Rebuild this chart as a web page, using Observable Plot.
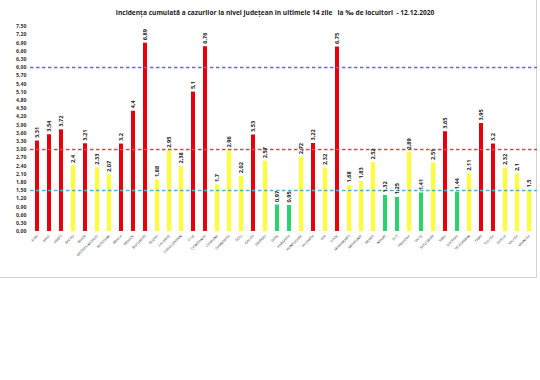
<!DOCTYPE html>
<html><head><meta charset="utf-8">
<script src="https://cdn.jsdelivr.net/npm/d3@7"></script>
<script src="https://cdn.jsdelivr.net/npm/@observablehq/plot@0.6"></script>
<style>
body{margin:0;background:#fff;font-family:"Open Sans",sans-serif;}
#wrap{position:relative;width:540px;height:380px;overflow:hidden;}
#title{position:absolute;top:8px;left:0;width:550px;text-align:center;font:bold 6.6px "Open Sans",sans-serif;color:#222;}
#border{position:absolute;left:-2px;top:-2px;width:537px;height:278px;border:1px solid #d4d4d4;}
#chart{position:absolute;left:0;top:0;}
</style></head>
<body><div id="wrap"><div id="border"></div><div id="chart"></div><div id="title">Incidența cumulată a cazurilor la nivel județean în ultimele 14 zile &nbsp; la ‰ de locuitori &nbsp;- 12.12.2020</div></div>
<script>
const counties = ["ALBA","ARAD","ARGES","BACAU","BIHOR","BISTRITA NASAUD","BOTOSANI","BRAILA","BRASOV","BUCURESTI","BUZAU","CALARASI","CARAS SEVERIN","CLUJ","CONSTANTA","COVASNA","DAMBOVITA","DOLJ","GALATI","GIURGIU","GORJ","HARGHITA","HUNEDOARA","IALOMITA","IASI","ILFOV","MARAMURES","MEHEDINTI","MURES","NEAMT","OLT","PRAHOVA","SALAJ","SATU MARE","SIBIU","SUCEAVA","TELEORMAN","TIMIS","TULCEA","VASLUI","VALCEA","VRANCEA"];
const values = [3.31,3.54,3.72,2.4,3.21,2.33,2.07,3.2,4.4,6.89,1.88,2.95,2.38,5.1,6.76,1.7,2.96,2.02,3.53,2.57,0.97,0.95,2.72,3.22,2.32,6.75,1.68,1.83,2.52,1.32,1.25,2.89,1.41,2.51,3.65,1.44,2.11,3.95,3.2,2.32,2.1,1.5];
const yTicks = d3.range(0, 26).map(i => +(i * 0.3).toFixed(2));
const thresholds = [6, 3, 1.5];
const thresholdColors = ["#6a6ad0", "#d84848", "#4fb4cc"];

const data = counties.map((c, i) => ({county: c, value: values[i]}));
const colorOf = v => v > 3 ? "#e8000c" : v >= 1.5 ? "#ffff33" : "#2ad36b";
const fmt = v => String(v).replace(".", ",");

const chart = Plot.plot({
  width: 540, height: 380,
  marginTop: 26, marginBottom: 149, marginLeft: 30, marginRight: 3,
  style: {fontFamily: "Open Sans, sans-serif", background: "transparent"},
  x: {domain: counties, range: [24.6, 541.7], paddingInner: 0.63, paddingOuter: 0.63, label: null},
  y: {domain: [0, 7.5], range: [231, 26], label: null},
  marks: [
    Plot.axisY({ticks: yTicks, tickFormat: d => d.toFixed(2).replace(".", ","), tickSize: 0, tickPadding: 4, fontSize: 5.2, fontWeight: "bold", fill: "#333", anchor: "left"}),
    Plot.axisX({tickSize: 0, tickRotate: -45, fontSize: 3.4, fill: "#333", tickPadding: 4}),
    Plot.barY(data, {x: "county", y: "value", fill: d => colorOf(d.value)}),
    ...thresholds.map((t, i) => Plot.ruleY([t], {y: d => d, stroke: () => thresholdColors[i], strokeDasharray: "3.5,2.5", strokeWidth: 1.4})),
    Plot.text(data, {x: "county", y: "value", text: d => fmt(d.value), rotate: -90, textAnchor: "start", dy: -3, fontSize: 5.6, fontWeight: "bold", fill: "#222"})
  ]
});
chart.querySelectorAll("line").forEach(l => { if (l.getAttribute("stroke-dasharray")) l.parentNode.setAttribute("stroke-linecap", "butt"); });
document.getElementById("chart").appendChild(chart);
</script>
</body></html>
